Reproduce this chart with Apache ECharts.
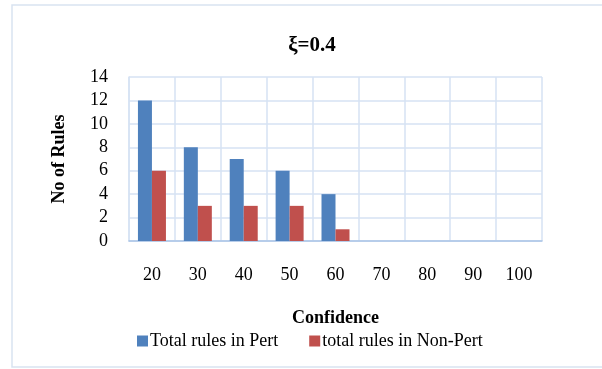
<!DOCTYPE html>
<html>
<head>
<meta charset="utf-8">
<script src="https://cdn.jsdelivr.net/npm/echarts@6/dist/echarts.min.js"></script>
<style>
  html, body { margin: 0; padding: 0; background: #ffffff; }
  #chart { width: 602px; height: 369px; }
</style>
</head>
<body>
<div id="chart"></div>
<script>
// Confidence levels on the x axis
const categories = ['20', '30', '40', '50', '60', '70', '80', '90', '100'];
// Rule counts per confidence level
const pertRules = [12, 8, 7, 6, 4, 0, 0, 0, 0];
const nonPertRules = [6, 3, 3, 3, 1, 0, 0, 0, 0];
const seriesNames = ['Total rules in Pert', 'total rules in Non-Pert'];

const serif = '"Liberation Serif", "Times New Roman", serif';
const gridColor = '#d6e2f3';

const chart = echarts.init(document.getElementById('chart'));
chart.setOption({
  animation: false,
  backgroundColor: '#ffffff',
  textStyle: { fontFamily: serif, color: '#000' },
  graphic: [{
    type: 'rect',
    shape: { x: 12, y: 5, width: 600, height: 362 },
    style: { fill: 'none', stroke: '#d9e3f1', lineWidth: 1.5 },
    silent: true
  }],
  title: {
    text: 'ξ=0.4',
    left: 307,
    textAlign: 'center',
    top: 30,
    textStyle: { fontFamily: serif, fontWeight: 'bold', fontSize: 21, color: '#000' }
  },
  legend: {
    data: seriesNames,
    left: 132,
    top: 327,
    itemWidth: 11,
    itemHeight: 11,
    itemGap: 31,
    icon: 'rect',
    textStyle: { fontFamily: serif, fontSize: 18, color: '#000', padding: [0, 0, 0, -3] }
  },
  grid: { left: 129, right: 60, top: 77, bottom: 128, containLabel: false },
  xAxis: {
    type: 'category',
    data: categories,
    name: 'Confidence',
    nameLocation: 'middle',
    nameGap: 68,
    nameTextStyle: { fontFamily: serif, fontWeight: 'bold', fontSize: 18, color: '#000' },
    axisLine: { show: true, lineStyle: { color: '#a9c3e6', width: 1.5 } },
    axisTick: { show: false },
    axisLabel: { margin: 25, fontFamily: serif, fontSize: 18, color: '#000' },
    splitLine: { show: true, lineStyle: { color: gridColor, width: 1.5 } }
  },
  yAxis: {
    type: 'value',
    min: 0,
    max: 14,
    interval: 2,
    name: 'No of Rules',
    nameLocation: 'middle',
    nameGap: 61,
    nameTextStyle: { fontFamily: serif, fontWeight: 'bold', fontSize: 18, color: '#000' },
    axisLine: { show: true, lineStyle: { color: gridColor, width: 1.5 } },
    axisTick: { show: false },
    axisLabel: { margin: 21, fontFamily: serif, fontSize: 18, color: '#000' },
    splitLine: { show: true, lineStyle: { color: gridColor, width: 1.5 } }
  },
  series: [
    {
      name: seriesNames[0],
      type: 'bar',
      data: pertRules,
      barWidth: 14,
      barGap: '0%',
      itemStyle: { color: '#4f81bd' }
    },
    {
      name: seriesNames[1],
      type: 'bar',
      data: nonPertRules,
      barWidth: 14,
      itemStyle: { color: '#c0504d' }
    }
  ]
});
</script>
</body>
</html>
